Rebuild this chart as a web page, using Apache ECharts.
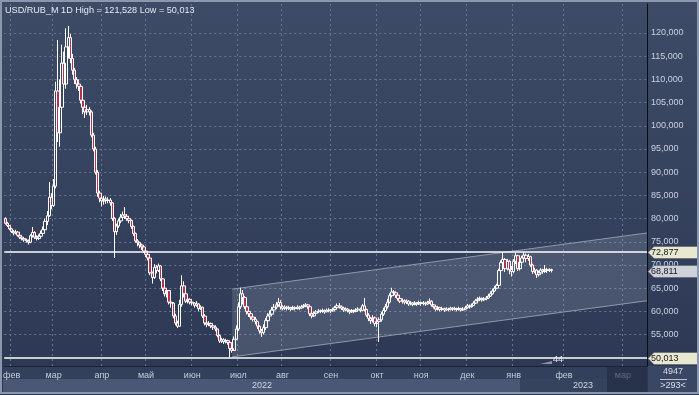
<!DOCTYPE html>
<html><head><meta charset="utf-8">
<script src="https://cdn.jsdelivr.net/npm/echarts@6/dist/echarts.min.js"></script>
<style>
html,body{margin:0;padding:0;background:#2f3b56;}
#c{width:699px;height:395px;background:linear-gradient(#3e4b67,#2c3853);}
</style>
</head><body><div id="c"></div>
<script>
const titleText = 'USD/RUB_M 1D High = 121,528 Low = 50,013';
const startDate = [2022, 0, 27];
const futureEnd = [2023, 2, 12];
const monthNames = ['янв','фев','мар','апр','май','июн','июл','авг','сен','окт','ноя','дек'];
const yearLabels = ['2022', '2023'];
const yTicks = [55,60,65,70,75,80,85,90,95,100,105,110,115,120];
const firstOpen = 80.0;
const closes = [
79.0,78.5,77.8,77.2,76.9,77.1,76.4,76.0,75.7,75.4,75.2,74.9,
76.3,77.0,76.0,75.7,76.2,76.8,77.6,79.4,80.6,
84.6,82.8,87.0,107.5,98.5,104.0,113.5,109.0,117.0,119.0,
114.5,112.0,110.0,109.0,108.5,105.5,104.0,103.0,103.5,103.0,
98.0,95.0,90.0,85.5,84.4,83.8,84.2,83.9,84.0,83.4,
80.0,77.2,78.4,79.5,80.3,80.8,80.5,80.0,79.6,78.3,
76.8,75.2,74.8,74.3,73.9,73.0,72.3,71.5,68.3,67.3,
69.5,68.8,69.8,67.0,65.0,63.8,64.5,62.0,61.8,59.0,
57.5,56.8,61.5,65.5,63.8,62.2,62.6,62.0,61.8,61.3,
61.6,60.6,60.9,59.0,57.5,57.2,57.4,56.9,56.6,56.2,
54.8,53.6,53.9,53.5,53.7,53.3,52.0,51.6,54.0,56.2,
61.0,63.8,63.0,61.0,60.0,59.5,58.8,58.3,57.8,56.8,
55.8,55.4,56.5,58.0,59.0,59.4,60.3,60.9,61.4,61.9,
61.0,60.6,60.9,60.7,60.8,60.5,60.8,60.6,60.9,60.7,
61.0,61.2,61.4,61.0,59.5,59.0,59.6,59.9,60.1,60.0,
60.2,59.9,60.2,60.3,60.1,60.4,60.8,61.2,61.0,60.7,
60.3,60.5,60.2,59.9,60.2,60.0,60.3,60.5,60.2,61.2,
60.4,59.2,58.5,58.0,58.6,57.4,57.8,58.2,59.4,60.2,
61.0,62.0,63.4,64.2,64.0,63.5,62.8,62.2,62.3,62.0,
62.2,61.6,61.8,61.5,61.8,61.6,61.9,61.7,61.8,61.6,
61.9,62.2,61.4,61.0,60.5,60.8,60.4,60.6,60.3,60.5,
60.4,60.7,60.5,60.6,60.4,60.6,60.3,60.5,60.8,61.2,
61.0,61.3,61.8,62.3,62.6,62.8,62.5,62.7,62.9,63.3,
63.8,64.4,65.0,65.6,68.8,70.5,71.2,69.2,70.8,69.0,
68.6,70.8,72.0,69.2,70.6,71.5,72.1,71.4,71.8,70.0,
68.6,68.9,67.9,68.3,68.9,68.6,69.0,68.8,69.0,68.811
];
const highs = [
80.3,79.3,78.6,78.0,77.5,77.6,77.3,76.6,76.3,75.9,75.7,75.5,
76.6,78.2,77.3,76.4,76.6,77.4,78.3,80.0,81.6,
87.9,85.5,88.5,109.5,118.5,110.0,117.5,116.0,121.0,121.528,
119.8,115.5,112.5,110.5,110.0,108.8,106.5,104.8,104.5,104.0,
103.3,98.5,95.5,90.5,86.0,85.0,84.9,84.8,84.6,84.4,
83.5,80.3,78.9,80.0,81.0,81.5,82.5,81.0,80.6,79.8,
78.5,77.0,75.6,75.0,74.6,74.2,73.3,72.5,71.6,68.6,
70.2,70.0,70.3,70.0,67.2,65.5,65.0,64.6,62.6,62.0,
59.5,58.0,62.5,67.8,66.5,64.0,63.0,62.8,62.5,62.0,
62.2,61.8,61.3,61.0,59.4,58.0,57.9,57.6,57.2,57.0,
56.3,55.0,54.3,54.2,54.1,53.9,53.5,52.6,54.6,57.0,
62.0,65.1,64.6,63.3,61.5,60.4,59.8,59.2,58.8,58.0,
57.0,56.2,57.2,58.6,59.6,60.2,61.0,61.6,62.0,62.9,
62.4,61.3,61.3,61.2,61.2,61.0,61.2,61.1,61.3,61.2,
61.4,61.6,61.8,61.6,61.2,59.8,60.0,60.3,60.5,60.4,
60.6,60.4,60.6,60.7,60.5,60.8,61.2,61.7,61.8,61.3,
61.0,60.9,60.7,60.4,60.5,60.4,60.7,60.9,60.8,61.6,
62.9,60.6,59.6,58.8,59.2,58.9,58.3,58.7,59.9,60.8,
61.6,62.7,63.9,65.1,64.6,64.3,63.8,63.0,62.8,62.6,
62.6,62.4,62.2,62.0,62.2,62.0,62.3,62.1,62.2,62.1,
62.3,62.8,62.4,61.6,61.3,61.2,61.0,61.0,60.8,60.9,
60.8,61.0,60.9,61.0,60.8,61.0,60.8,60.9,61.2,61.6,
61.5,61.7,62.2,62.7,63.1,63.2,63.0,63.1,63.3,63.8,
64.3,64.9,65.5,66.0,69.2,71.0,72.8,71.5,71.3,71.1,
69.8,71.3,72.6,72.2,71.2,72.0,72.7,72.5,72.4,72.0,
70.3,69.4,69.1,68.8,69.3,69.2,70.0,69.4,69.3,69.2
];
const lows = [
78.7,78.2,77.5,76.9,76.4,76.6,76.1,75.6,75.3,75.0,74.8,74.4,
74.7,75.9,75.6,75.3,75.4,75.9,76.6,77.4,78.6,
80.4,82.0,82.5,86.5,96.5,95.5,103.0,104.5,108.0,114.5,
113.5,111.0,109.0,108.0,107.5,104.8,102.5,101.7,102.3,102.2,
97.5,94.5,89.5,84.7,83.5,82.6,83.0,83.2,83.3,82.8,
79.5,71.5,76.5,78.0,79.0,79.8,79.9,79.5,79.0,77.8,
76.3,74.8,74.0,73.6,73.2,72.6,71.7,71.0,67.8,66.0,
67.0,68.2,68.5,66.5,64.4,63.2,63.0,61.5,60.8,58.5,
57.0,56.4,56.8,61.0,63.0,61.8,61.7,61.5,61.3,60.8,
61.0,60.0,60.3,58.6,57.0,56.6,56.8,56.4,56.0,55.7,
54.4,53.2,53.2,53.0,53.1,52.8,50.013,51.1,51.5,53.8,
55.8,60.5,61.5,60.5,59.3,58.8,58.2,57.8,57.2,56.2,
55.2,54.5,55.0,56.0,57.5,58.6,59.0,60.0,60.5,61.0,
60.4,60.2,60.3,60.2,60.3,60.1,60.3,60.2,60.4,60.3,
60.5,60.7,60.9,60.5,59.0,58.5,58.8,59.3,59.6,59.6,
59.7,59.5,59.8,59.8,59.6,60.0,60.2,60.7,60.6,60.3,
59.9,60.0,59.8,59.4,59.7,59.6,59.8,60.0,59.8,60.0,
60.0,58.8,57.9,57.3,57.6,56.8,56.6,53.4,57.8,59.0,
59.9,60.6,61.7,63.0,63.3,62.9,62.3,61.8,61.7,61.5,
61.6,61.2,61.3,61.1,61.3,61.2,61.4,61.2,61.3,61.2,
61.4,61.6,61.0,60.6,60.1,60.2,60.0,60.1,59.9,60.1,
60.0,60.2,60.1,60.2,60.0,60.2,60.0,60.1,60.3,60.6,
60.6,60.8,61.1,61.6,62.0,62.3,62.1,62.2,62.4,62.7,
63.1,63.6,64.2,64.8,65.3,68.3,69.8,68.5,68.8,68.0,
67.5,68.2,70.2,68.7,68.8,70.0,71.0,70.6,70.9,69.6,
68.1,68.2,67.2,67.5,68.0,68.1,68.3,68.3,68.5,68.4
];
const levelLines = [72.877, 50.013];
const lastPrice = 68.811;
const channelStartIdx = 108;
const channelTop = [64.8, 76.9];
const channelBottom = [50.2, 62.3];
const counterTexts = ['4947', '>293<'];
const markerText = '44';

// categories: trading days for history, calendar days for the projected area
const categories = [];
const pad = n => (n < 10 ? '0' : '') + n;
const fmt = d => d.getUTCFullYear() + '-' + pad(d.getUTCMonth() + 1) + '-' + pad(d.getUTCDate());
let d = new Date(Date.UTC(startDate[0], startDate[1], startDate[2]));
while (categories.length < closes.length) {
  const wd = d.getUTCDay();
  if (wd !== 0 && wd !== 6) categories.push(fmt(d));
  d.setUTCDate(d.getUTCDate() + 1);
}
const endD = new Date(Date.UTC(futureEnd[0], futureEnd[1], futureEnd[2]));
while (d <= endD) { categories.push(fmt(d)); d.setUTCDate(d.getUTCDate() + 1); }

const candleData = closes.map((c, i) => {
  const o = i ? closes[i - 1] : firstOpen;
  return [o, c, Math.min(lows[i], o, c), Math.max(highs[i], o, c)];
});

const isMonthStart = (idx) => idx > 0 && categories[idx].slice(0, 7) !== categories[idx - 1].slice(0, 7);
const fmtPrice = v => v.toFixed(3).replace('.', ',');
const FONT = '"Liberation Sans", Arial, sans-serif';
const gridDash = { color: '#66748f', width: 1, type: [2, 3] };

const chart = echarts.init(document.getElementById('c'), null, { renderer: 'canvas' });
chart.setOption({
  animation: false,
  backgroundColor: 'transparent',
  grid: { left: 3, right: 52, top: 4, bottom: 29 },
  xAxis: {
    type: 'category', data: categories, boundaryGap: true,
    axisLine: { show: true, lineStyle: { color: '#1b2234', width: 1 } },
    axisTick: { show: false },
    axisLabel: {
      interval: (idx) => isMonthStart(idx),
      formatter: (v) => monthNames[+v.slice(5, 7) - 1],
      color: (v) => (v && v.slice(0, 7) === '2023-03') ? '#5f6a84' : '#c6cedd',
      fontSize: 9, fontFamily: FONT, margin: 5
    },
    splitLine: { show: true, interval: (idx) => isMonthStart(idx), lineStyle: gridDash }
  },
  yAxis: {
    type: 'value', position: 'right', min: 48.23, max: 126.25, scale: true,
    axisLine: { show: true, lineStyle: { color: '#0a0d14', width: 1 } },
    axisTick: { show: false, customValues: yTicks },
    axisLabel: { customValues: yTicks, formatter: fmtPrice, color: '#c9d1e0', fontSize: 9, fontFamily: FONT, margin: 4 },
    splitLine: { show: true, lineStyle: gridDash }
  },
  series: [
    {
      type: 'custom', silent: true, z: 1, clip: true,
      data: [[channelStartIdx, channelTop[0]]],
      renderItem: (params, api) => {
        const last = categories.length - 1;
        const half = api.size([1, 0])[0] / 2;
        const tl = api.coord([channelStartIdx, channelTop[0]]);
        const tr = api.coord([last, channelTop[1]]); tr[0] += half;
        const bl = api.coord([channelStartIdx, channelBottom[0]]);
        const br = api.coord([last, channelBottom[1]]); br[0] += half;
        return { type: 'group', children: [
          { type: 'polygon', shape: { points: [tl, tr, br, bl] }, style: { fill: 'rgba(200,210,228,0.17)' } },
          { type: 'line', shape: { x1: tl[0], y1: tl[1], x2: tr[0], y2: tr[1] }, style: { stroke: '#8f98aa', lineWidth: 1 } },
          { type: 'line', shape: { x1: bl[0], y1: bl[1], x2: br[0], y2: br[1] }, style: { stroke: '#8f98aa', lineWidth: 1 } }
        ] };
      }
    },
    {
      type: 'candlestick', z: 3, data: candleData, barWidth: 3,
      itemStyle: { color: 'rgba(0,0,0,0)', color0: '#b5324f', borderColor: '#ffffff', borderColor0: '#ffffff', borderWidth: 1 },
      markLine: {
        silent: true, symbol: 'none', animation: false,
        label: { show: false },
        lineStyle: { color: '#ffffff', width: 1.5, type: 'solid' },
        data: levelLines.map(v => ({ yAxis: v }))
      }
    }
  ]
});

function tag(v, fill) {
  const y = Math.round(chart.convertToPixel({ yAxisIndex: 0 }, v)) + 0.5;
  return [
    { type: 'polygon', z: 20, shape: { points: [[648, y], [654, y - 6], [699, y - 6], [699, y + 6], [654, y + 6]] },
      style: { fill: fill, stroke: '#5a6070', lineWidth: 0.6 } },
    { type: 'text', z: 21, x: 651, y: y, style: { text: fmtPrice(v), fill: '#15181f', font: '9px ' + FONT, verticalAlign: 'middle', textVerticalAlign: 'middle' } }
  ];
}

const g = [];
// bottom axis bands
g.push({ type: 'rect', z: -5, shape: { x: 3, y: 366, width: 644, height: 13 }, style: { fill: '#33405b' } });
g.push({ type: 'rect', z: -5, shape: { x: 3, y: 379, width: 517, height: 13 }, style: { fill: '#4a5876' } });
g.push({ type: 'rect', z: -5, shape: { x: 520, y: 379, width: 87, height: 13 }, style: { fill: '#36435e' } });
g.push({ type: 'rect', z: -4, shape: { x: 607, y: 366, width: 40, height: 26 }, style: { fill: '#28324a' } });
g.push({ type: 'rect', z: -5, shape: { x: 648, y: 366, width: 49, height: 26 }, style: { fill: '#3a4764' } });
// frame
g.push({ type: 'rect', z: 30, shape: { x: 1, y: 1, width: 697, height: 392 }, style: { fill: 'none', stroke: '#8b97ad', lineWidth: 2 } });
// title
g.push({ type: 'text', z: 25, x: 5, y: 10, style: { text: titleText, fill: '#e4e9f1', font: '9.1px ' + FONT, verticalAlign: 'middle', textVerticalAlign: 'middle' } });
// year labels
g.push({ type: 'text', z: 25, x: 262, y: 386, style: { text: yearLabels[0], fill: '#d2d8e4', font: '9px ' + FONT, align: 'center', textAlign: 'center', verticalAlign: 'middle', textVerticalAlign: 'middle' } });
g.push({ type: 'text', z: 25, x: 593, y: 386, style: { text: yearLabels[1], fill: '#d2d8e4', font: '9px ' + FONT, align: 'right', textAlign: 'right', verticalAlign: 'middle', textVerticalAlign: 'middle' } });
// counter box
g.push({ type: 'text', z: 25, x: 673, y: 372, style: { text: counterTexts[0], fill: '#d8dee8', font: '9px ' + FONT, align: 'center', textAlign: 'center', verticalAlign: 'middle', textVerticalAlign: 'middle' } });
g.push({ type: 'line', z: 25, shape: { x1: 660, y1: 379.5, x2: 687, y2: 379.5 }, style: { stroke: '#b9c1d0', lineWidth: 1 } });
g.push({ type: 'text', z: 25, x: 673, y: 386, style: { text: counterTexts[1], fill: '#d8dee8', font: '9px ' + FONT, align: 'center', textAlign: 'center', verticalAlign: 'middle', textVerticalAlign: 'middle' } });
// marker
g.push({ type: 'text', z: 25, x: 558, y: 360, style: { text: markerText, fill: '#e8ecf2', font: '9px ' + FONT, align: 'center', textAlign: 'center', verticalAlign: 'middle', textVerticalAlign: 'middle' } });
g.push({ type: 'polygon', z: 24, shape: { points: [[540, 364], [552, 361], [552, 364]] }, style: { fill: '#8a93a5' } });
// price tags
g.push(...tag(levelLines[0], '#e7e8cf'));
g.push(...tag(lastPrice, '#cdd1da'));
g.push(...tag(levelLines[1], '#e7e8cf'));

chart.setOption({ graphic: { elements: g } });
</script>
</body></html>
